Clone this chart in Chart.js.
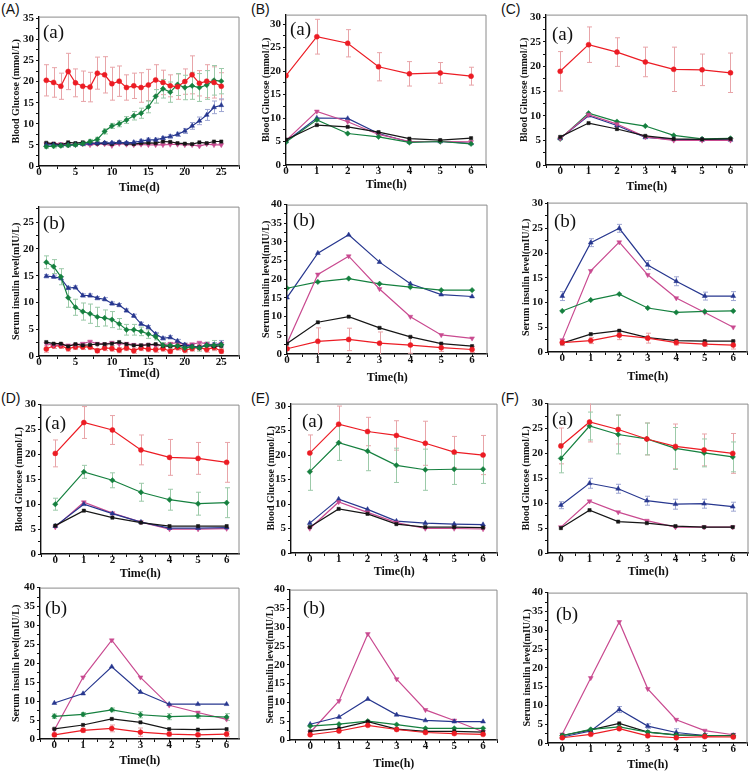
<!DOCTYPE html>
<html>
<head>
<meta charset="UTF-8">
<title>Blood glucose and serum insulin</title>
<script src="https://cdn.jsdelivr.net/npm/chart.js"></script>
<style>
  body { margin:0; background:#fff; width:754px; height:775px; position:relative; overflow:hidden; }
  .box { position:absolute; }
  .tag { position:absolute; font-family:'Liberation Sans', Arial, sans-serif; font-size:14px; line-height:1; color:#111; }
</style>
</head>
<body>
<div class="tag" style="left:1px;top:2px">(A)</div>
<div class="tag" style="left:251px;top:2px">(B)</div>
<div class="tag" style="left:501px;top:2px">(C)</div>
<div class="tag" style="left:1px;top:391px">(D)</div>
<div class="tag" style="left:251px;top:391px">(E)</div>
<div class="tag" style="left:501px;top:391px">(F)</div>

<script>
// ---------------- categories / ticks ----------------
const days = [1,2,3,4,5,6,7,8,9,10,11,12,13,14,15,16,17,18,19,20,21,22,23,24,25];
const hours = [0,1,2,3,4,5,6];
const dayTicks = [0,5,10,15,20,25];
const hourTicks = [0,1,2,3,4,5,6];
const gluTicks35 = [0,5,10,15,20,25,30,35];
const gluTicks30 = [0,5,10,15,20,25,30];
const insTicks25 = [0,5,10,15,20,25];
const insTicks30 = [0,5,10,15,20,25,30];
const insTicks40 = [0,5,10,15,20,25,30,35,40];

// ---------------- (A) 25 days ----------------
const aGluBlack = [5.5,5.3,5.0,5.6,5.4,5.6,5.5,5.3,5.4,5.2,5.6,5.3,5.2,5.4,5.5,5.4,5.8,5.7,5.4,5.3,5.2,5.6,5.4,5.8,5.8];
const aGluRed   = [20.3,19.8,18.9,22.4,19.7,18.9,18.7,22.0,21.6,19.5,20.1,18.6,19.0,18.6,19.2,20.4,19.8,19.0,18.8,20.0,21.6,19.6,20.1,19.8,18.9];
const aGluRedErr = [3.7,3.5,3.1,4.3,3.3,3.6,3.5,3.8,4.3,3.9,3.6,3.0,3.0,3.5,3.7,3.6,2.9,2.6,3.0,3.0,4.5,3.0,3.9,3.7,3.2];
const aGluBlue  = [5.0,5.0,4.9,5.0,5.1,5.2,5.3,5.4,5.5,5.5,5.6,5.5,5.6,5.9,6.2,6.2,6.6,7.0,7.5,8.3,9.5,10.7,12.1,13.9,14.4];
const aGluBlueErr = [0.3,0.3,0.3,0.3,0.3,0.3,0.3,0.3,0.3,0.3,0.3,0.3,0.3,0.4,0.4,0.4,0.4,0.4,0.5,0.6,0.8,0.9,1.3,1.5,1.5];
const aGluPink  = [5.2,5.3,5.2,5.0,5.1,5.2,5.0,5.2,5.2,4.8,5.3,5.1,5.0,5.1,5.0,5.0,5.0,5.1,5.1,5.0,5.0,4.7,5.2,5.0,5.0];
const aGluGreen = [4.6,4.7,4.8,4.9,5.0,5.3,5.8,6.3,8.2,9.5,10.0,10.9,11.9,12.5,14.0,16.5,18.3,17.5,19.3,18.6,19.0,18.6,19.2,20.3,20.1];
const aGluGreenErr = [0.4,0.4,0.4,0.4,0.4,0.5,0.5,0.5,0.6,0.6,0.7,0.8,1.0,1.2,1.4,1.6,2.2,2.4,2.6,2.9,3.2,3.3,3.4,3.5,3.0];

const aInsBlack = [2.6,2.3,2.3,1.8,2.2,2.0,2.1,2.2,2.2,2.3,2.6,2.2,2.0,2.0,2.1,2.2,1.9,1.8,1.9,2.0,1.8,1.6,2.0,1.8,1.9];
const aInsRed   = [1.3,1.9,1.9,1.4,1.7,1.7,1.7,1.0,1.5,1.4,1.1,1.5,1.0,1.5,1.3,1.2,1.4,0.9,1.6,1.1,1.4,1.6,1.2,1.6,0.9];
const aInsRedErr = [0.6,0.5,0.5,0.5,0.5,0.5,0.5,0.4,0.5,0.5,0.5,0.5,0.5,0.5,0.5,0.5,0.5,0.4,0.5,0.5,0.5,0.5,0.5,0.6,0.4];
const aInsBlue  = [14.9,14.8,14.5,12.7,12.8,11.3,11.3,10.8,10.6,9.8,9.5,8.5,7.5,6.0,5.4,4.1,3.3,3.5,2.8,2.1,1.8,1.6,2.1,2.1,2.3];
const aInsBlueErr = [0.3,0.3,0.3,0.3,0.3,0.3,0.3,0.3,0.3,0.3,0.3,0.3,0.3,0.3,0.3,0.3,0.3,0.3,0.3,0.3,0.3,0.3,0.3,0.4,0.6];
const aInsPink  = [2.3,2.0,2.1,2.0,2.1,2.3,2.7,2.3,2.2,2.5,2.2,2.3,2.1,2.0,2.1,2.0,2.1,2.3,2.5,2.1,2.2,2.5,2.3,2.0,2.3];
const aInsGreen = [17.5,16.7,14.8,10.9,9.1,8.3,7.9,7.3,7.1,6.8,6.0,4.9,4.9,4.6,4.1,3.6,2.0,2.0,1.9,1.5,1.7,1.5,2.0,2.0,2.1];
const aInsGreenErr = [1.2,1.3,1.5,1.8,1.5,1.6,1.8,1.8,1.5,1.5,1.0,1.0,1.0,0.8,0.8,0.6,0.5,0.5,0.6,0.6,0.6,0.6,0.6,0.9,0.8];

// ---------------- (B) ----------------
const bGluBlack = [5.4,8.5,8.1,7.0,5.6,5.3,5.7];
const bGluRed   = [19.0,27.3,25.9,20.9,19.4,19.6,18.9];
const bGluRedErr = [0,3.7,2.9,3.0,2.6,2.2,1.9];
const bGluBlue  = [5.0,10.0,9.9,6.7,4.9,5.0,4.6];
const bGluPink  = [5.2,11.4,9.2,6.5,5.0,5.0,4.9];
const bGluGreen = [4.9,9.6,6.7,6.0,4.8,5.0,4.5];

const bInsBlack = [2.8,8.5,10.0,7.0,4.6,2.8,2.1];
const bInsRed   = [1.4,3.4,3.9,2.9,2.4,1.7,1.2];
const bInsRedErr = [0.3,3.6,3.0,3.0,2.2,1.0,0.8];
const bInsBlue  = [15.1,27.0,31.9,24.6,18.8,15.9,15.4];
const bInsPink  = [2.9,21.3,26.2,17.4,10.0,5.1,4.2];
const bInsGreen = [17.6,19.3,20.2,18.8,17.9,17.1,17.1];

// ---------------- (C) ----------------
const cGluBlack = [5.7,8.5,7.3,5.9,5.3,5.2,5.3];
const cGluRed   = [19.0,24.4,22.9,20.9,19.4,19.3,18.7];
const cGluRedErr = [4.0,3.6,2.9,3.0,4.5,3.2,4.0];
const cGluBlue  = [5.4,10.0,8.0,5.6,5.2,5.1,5.1];
const cGluPink  = [5.4,10.2,8.3,5.7,5.0,5.0,5.0];
const cGluGreen = [5.3,10.5,8.8,7.9,6.0,5.3,5.4];

const cInsBlack = [1.8,3.6,4.3,2.9,2.3,2.2,2.2];
const cInsRed   = [1.9,2.3,3.4,2.8,1.9,1.6,1.4];
const cInsRedErr = [0.6,0.6,0.9,1.0,0.5,0.4,0.8];
const cInsBlue  = [11.3,22.1,25.0,17.6,14.3,11.3,11.3];
const cInsBlueErr = [0.9,0.8,0.8,0.9,0.9,0.8,0.9];
const cInsPink  = [2.4,16.4,22.2,15.6,10.9,8.0,5.0];
const cInsGreen = [8.3,10.5,11.7,8.9,8.0,8.2,8.3];

// ---------------- (D) ----------------
const dGluBlack = [5.7,8.7,7.3,6.3,5.6,5.6,5.6];
const dGluRed   = [20.2,26.4,24.9,20.9,19.4,19.2,18.4];
const dGluRedErr = [2.7,3.2,2.9,3.0,3.6,3.2,4.0];
const dGluBlue  = [5.6,10.0,8.1,6.4,5.2,5.2,5.3];
const dGluPink  = [5.4,10.4,8.2,6.4,5.0,5.0,5.1];
const dGluGreen = [10.0,16.5,14.8,12.4,10.9,10.1,10.3];
const dGluGreenErr = [1.2,1.3,1.5,1.8,2.1,2.3,3.0];

const dInsBlack = [2.7,3.7,5.3,4.4,2.6,2.5,2.6];
const dInsRed   = [1.1,2.3,2.8,1.8,1.3,1.1,1.3];
const dInsRedErr = [0.5,0.5,0.9,1.1,0.5,0.4,0.7];
const dInsBlue  = [9.5,12.0,19.1,12.4,9.2,9.2,9.2];
const dInsPink  = [2.4,16.3,26.1,16.3,8.9,7.0,5.2];
const dInsGreen = [6.0,6.5,7.7,6.4,5.9,6.1,5.8];
const dInsGreenErr = [0.6,0.5,0.5,0.8,0.8,0.6,0.9];

// ---------------- (E) ----------------
const eGluBlack = [5.3,9.0,8.0,5.9,5.3,5.3,5.2];
const eGluRed   = [20.4,26.3,24.8,24.0,22.4,20.6,20.0];
const eGluRedErr = [3.7,3.7,2.9,3.0,4.5,3.2,4.0];
const eGluBlue  = [6.1,11.0,8.9,6.5,6.1,5.9,5.8];
const eGluPink  = [5.0,10.4,8.3,6.2,5.0,5.0,4.9];
const eGluGreen = [16.6,22.5,20.8,17.9,17.0,17.1,17.1];
const eGluGreenErr = [3.8,3.6,4.0,3.5,4.2,3.1,2.9];

const eInsBlack = [2.3,3.1,4.9,2.9,2.3,2.3,2.1];
const eInsRed   = [1.4,2.4,3.9,2.8,2.0,1.7,1.5];
const eInsBlue  = [4.2,6.1,10.9,6.7,5.2,4.9,4.9];
const eInsPink  = [2.0,10.4,28.2,16.2,8.0,5.2,2.2];
const eInsGreen = [3.7,4.2,5.0,4.1,3.1,3.1,3.1];

// ---------------- (F) ----------------
const fGluBlack = [5.0,8.6,6.3,6.0,5.4,5.2,5.2];
const fGluRed   = [21.5,26.3,24.8,22.9,21.4,20.7,20.0];
const fGluRedErr = [3.6,4.0,2.9,3.2,4.5,3.2,4.0];
const fGluBlue  = [9.6,14.0,12.9,10.5,9.8,9.9,9.3];
const fGluBlueErr = [0.7,1.0,0.9,0.9,1.0,0.9,0.9];
const fGluPink  = [5.2,10.4,8.2,6.5,5.2,5.2,5.2];
const fGluGreen = [19.0,25.5,23.8,22.9,21.0,20.1,19.3];
const fGluGreenErr = [2.9,2.8,3.9,3.2,4.2,2.8,3.0];

const fInsBlack = [2.0,3.5,5.2,2.9,2.2,2.0,2.0];
const fInsRed   = [1.4,2.3,3.8,1.9,1.4,1.7,1.6];
const fInsBlue  = [1.6,3.2,8.9,4.5,2.8,2.0,2.0];
const fInsBlueErr = [0.3,0.5,0.8,0.6,1.0,0.5,0.5];
const fInsPink  = [2.3,17.3,32.2,14.4,6.2,3.3,2.2];
const fInsGreen = [2.0,3.6,4.3,2.9,2.1,2.0,1.9];

// ---------------- styles ----------------
const STYLE = {
  black: { color:'#161616', err:'#a0a0a0', shape:'rect',     rot:0,   r:2.3 },
  red:   { color:'#ec1c24', err:'#e8a4a8', shape:'circle',   rot:0,   r:2.5 },
  blue:  { color:'#27378f', err:'#9ea6d2', shape:'triangle', rot:0,   r:2.8 },
  pink:  { color:'#c94a90', err:'#e4a8ca', shape:'triangle', rot:180, r:2.8 },
  green: { color:'#15803f', err:'#9ccaa9', shape:'rectRot',  rot:0,   r:2.7 }
};

Chart.defaults.font.family = '"Liberation Serif", "Times New Roman", serif';
Chart.defaults.font.weight = 'bold';
Chart.defaults.font.size = 11;
Chart.defaults.color = '#111';

// top/right frame of the plot box (Origin style, grey)
const framePlugin = {
  id: 'frame',
  beforeDatasetsDraw(chart) {
    const { ctx, chartArea: a } = chart;
    ctx.save();
    ctx.strokeStyle = '#8a8a8a';
    ctx.lineWidth = 1;
    ctx.beginPath();
    ctx.moveTo(a.left, a.top + 0.5);
    ctx.lineTo(a.right - 0.5, a.top + 0.5);
    ctx.lineTo(a.right - 0.5, a.bottom);
    ctx.stroke();
    ctx.restore();
  }
};

// vertical error bars, computed through the y scale
const errorPlugin = {
  id: 'errbars',
  beforeDatasetsDraw(chart) {
    const { ctx, chartArea: a } = chart;
    const ys = chart.scales.y;
    ctx.save();
    ctx.beginPath();
    ctx.rect(a.left, a.top, a.right - a.left, a.bottom - a.top);
    ctx.clip();
    chart.data.datasets.forEach((ds, i) => {
      if (!ds.errors) return;
      const meta = chart.getDatasetMeta(i);
      ctx.strokeStyle = ds.errorColor;
      ctx.lineWidth = 1;
      meta.data.forEach((pt, j) => {
        const e = ds.errors[j];
        if (!e) return;
        const v = ds.data[j];
        const y1 = ys.getPixelForValue(v + e), y2 = ys.getPixelForValue(v - e);
        const x = Math.round(pt.x) + 0.5;
        ctx.beginPath();
        ctx.moveTo(x, y1); ctx.lineTo(x, y2);
        ctx.moveTo(x - 2.5, y1); ctx.lineTo(x + 2.5, y1);
        ctx.moveTo(x - 2.5, y2); ctx.lineTo(x + 2.5, y2);
        ctx.stroke();
      });
    });
    ctx.restore();
  }
};

// "(a)" / "(b)" inside the plot
const tagPlugin = {
  id: 'tag',
  afterDraw(chart, args, opts) {
    if (!opts.text) return;
    const { ctx, chartArea: a } = chart;
    ctx.save();
    ctx.font = '19px "Liberation Serif", "Times New Roman", serif';
    ctx.fillStyle = '#111';
    ctx.textBaseline = 'alphabetic';
    ctx.fillText(opts.text, a.left + opts.dx, a.top + opts.dy + 13);
    ctx.restore();
  }
};

function withMinor(major, step, min, max) {
  const out = [];
  for (let v = major[0] - step * 4; v <= max + 1e-9; v += step) {
    if (v >= min - 1e-9) out.push(Math.round(v * 100) / 100);
  }
  return out;
}

function makeChart(p) {
  const [l, t, r, b] = p.rect;
  const padL = p.ty + 8, padT = 8, padR = 3, padB = Math.round(p.tx + 10);
  const div = document.createElement('div');
  div.className = 'box';
  div.style.left = (l - padL) + 'px';
  div.style.top = (t - padT) + 'px';
  const cv = document.createElement('canvas');
  cv.width = r - l + padL + padR;
  cv.height = b - t + padT + padB;
  div.appendChild(cv);
  document.body.appendChild(div);

  const datasets = p.series.map(([k, data, err]) => {
    const s = STYLE[k];
    return {
      data: data, errors: err, errorColor: s.err,
      borderColor: s.color, backgroundColor: s.color, borderWidth: 1.2,
      pointStyle: s.shape, pointRotation: s.rot, pointRadius: s.r,
      pointBorderWidth: 0.5, pointBackgroundColor: s.color, pointBorderColor: s.color,
      tension: 0, fill: false
    };
  });

  const axis = (majors, minorStep, range, title, isX) => ({
    type: 'linear', min: range[0], max: range[1],
    afterBuildTicks: s => { s.ticks = withMinor(majors, minorStep, range[0], range[1]).map(v => ({ value: v })); },
    afterFit: s => { if (isX) s.height = padB; else s.width = padL; },
    ticks: {
      autoSkip: false, maxRotation: 0, padding: isX ? -3 : 2,
      callback: v => majors.includes(v) ? String(v) : ''
    },
    grid: { drawOnChartArea: false, drawTicks: true, tickLength: 3, tickColor: '#111', tickWidth: 1 },
    border: { display: true, color: '#111', width: 1.4 },
    title: isX
      ? { display: true, text: title, font: { size: 12, weight: 'bold' }, padding: { top: 0, bottom: 2 } }
      : { display: true, text: title, font: { size: 10, weight: 'bold' }, padding: { top: 2, bottom: 0 } }
  });

  new Chart(cv, {
    type: 'line',
    data: { labels: p.x, datasets: datasets },
    options: {
      responsive: false, animation: false,
      layout: { padding: { top: padT, right: padR, left: 0, bottom: 0 } },
      plugins: { legend: { display: false }, tooltip: { enabled: false },
                 tag: { text: p.tag, dx: p.tdx, dy: p.tdy } },
      scales: {
        x: axis(p.xt, p.xm, p.xr, p.xtitle, true),
        y: axis(p.yt, 2.5, p.yr, p.ytitle, false)
      }
    },
    plugins: [framePlugin, errorPlugin, tagPlugin]
  });
}

const GLU = 'Blood Glucose (mmol/L)';
const INS = 'Serum insulin level(mIU/L)';

const panels = [
  { rect:[39,16,241,166], x:days, xr:[0,27.5], xt:dayTicks, xm:2.5, yr:[0,35.4], yt:gluTicks35,
    ytitle:GLU, xtitle:'Time(d)', tag:'(a)', tdx:4, tdy:8, ty:23, tx:21,
    series:[['red',aGluRed,aGluRedErr],['green',aGluGreen,aGluGreenErr],['blue',aGluBlue,aGluBlueErr],['black',aGluBlack],['pink',aGluPink]] },
  { rect:[39,206,241,356], x:days, xr:[0,27.5], xt:dayTicks, xm:2.5, yr:[0,27.9], yt:insTicks25,
    ytitle:INS, xtitle:'Time(d)', tag:'(b)', tdx:4, tdy:9, ty:23, tx:17,
    series:[['green',aInsGreen,aInsGreenErr],['blue',aInsBlue,aInsBlueErr],['black',aInsBlack],['pink',aInsPink],['red',aInsRed,aInsRedErr]] },
  { rect:[286,14,488,165], x:hours, xr:[0,6.5], xt:hourTicks, xm:0.5, yr:[0,32], yt:gluTicks30,
    ytitle:GLU, xtitle:'Time(h)', tag:'(a)', tdx:4, tdy:7, ty:20, tx:19,
    series:[['red',bGluRed,bGluRedErr],['black',bGluBlack],['green',bGluGreen],['pink',bGluPink],['blue',bGluBlue]] },
  { rect:[287,204,489,354], x:hours, xr:[0,6.5], xt:hourTicks, xm:0.5, yr:[0,40], yt:insTicks40,
    ytitle:INS, xtitle:'Time(h)', tag:'(b)', tdx:6, tdy:8, ty:21, tx:23,
    series:[['red',bInsRed,bInsRedErr],['black',bInsBlack],['pink',bInsPink],['green',bInsGreen],['blue',bInsBlue]] },
  { rect:[546,14,749,165], x:hours, xr:[-0.5,6.6], xt:hourTicks, xm:0.5, yr:[0,30.5], yt:gluTicks30,
    ytitle:GLU, xtitle:'Time(h)', tag:'(a)', tdx:6, tdy:12, ty:22, tx:21,
    series:[['red',cGluRed,cGluRedErr],['black',cGluBlack],['pink',cGluPink],['blue',cGluBlue],['green',cGluGreen]] },
  { rect:[548,202,749,352], x:hours, xr:[-0.5,6.5], xt:hourTicks, xm:0.5, yr:[0,30.2], yt:insTicks30,
    ytitle:INS, xtitle:'Time(h)', tag:'(b)', tdx:6, tdy:11, ty:22, tx:24,
    series:[['red',cInsRed,cInsRedErr],['black',cInsBlack],['green',cInsGreen],['pink',cInsPink],['blue',cInsBlue,cInsBlueErr]] },
  { rect:[41,404,241,554], x:hours, xr:[-0.5,6.45], xt:hourTicks, xm:0.5, yr:[0,30], yt:gluTicks30,
    ytitle:GLU, xtitle:'Time(h)', tag:'(a)', tdx:4, tdy:11, ty:22, tx:19,
    series:[['red',dGluRed,dGluRedErr],['green',dGluGreen,dGluGreenErr],['black',dGluBlack],['blue',dGluBlue],['pink',dGluPink]] },
  { rect:[40,587,241,739], x:hours, xr:[-0.5,6.45], xt:hourTicks, xm:0.5, yr:[0,40], yt:insTicks40,
    ytitle:INS, xtitle:'Time(h)', tag:'(b)', tdx:5, tdy:13, ty:24, tx:21,
    series:[['red',dInsRed,dInsRedErr],['black',dInsBlack],['green',dInsGreen,dInsGreenErr],['blue',dInsBlue],['pink',dInsPink]] },
  { rect:[291,403,499,553], x:hours, xr:[-0.65,6.5], xt:hourTicks, xm:0.5, yr:[0,30.5], yt:gluTicks30,
    ytitle:GLU, xtitle:'Time(h)', tag:'(a)', tdx:11, tdy:10, ty:20, tx:18,
    series:[['red',eGluRed,eGluRedErr],['green',eGluGreen,eGluGreenErr],['black',eGluBlack],['pink',eGluPink],['blue',eGluBlue]] },
  { rect:[290,589,499,740], x:hours, xr:[-0.7,6.5], xt:hourTicks, xm:0.5, yr:[0,40], yt:insTicks40,
    ytitle:INS, xtitle:'Time(h)', tag:'(b)', tdx:13, tdy:11, ty:20, tx:23,
    series:[['red',eInsRed],['black',eInsBlack],['green',eInsGreen],['blue',eInsBlue],['pink',eInsPink]] },
  { rect:[548,403,750,553], x:hours, xr:[-0.45,6.55], xt:hourTicks, xm:0.5, yr:[0,30], yt:gluTicks30,
    ytitle:GLU, xtitle:'Time(h)', tag:'(a)', tdx:4, tdy:8, ty:22, tx:18,
    series:[['red',fGluRed,fGluRedErr],['green',fGluGreen,fGluGreenErr],['blue',fGluBlue,fGluBlueErr],['black',fGluBlack],['pink',fGluPink]] },
  { rect:[548,592,749,743], x:hours, xr:[-0.5,6.5], xt:hourTicks, xm:0.5, yr:[0,40], yt:insTicks40,
    ytitle:INS, xtitle:'Time(h)', tag:'(b)', tdx:8, tdy:14, ty:21, tx:21,
    series:[['red',fInsRed],['green',fInsGreen],['black',fInsBlack],['blue',fInsBlue,fInsBlueErr],['pink',fInsPink]] }
];

panels.forEach(makeChart);
</script>
</body>
</html>
